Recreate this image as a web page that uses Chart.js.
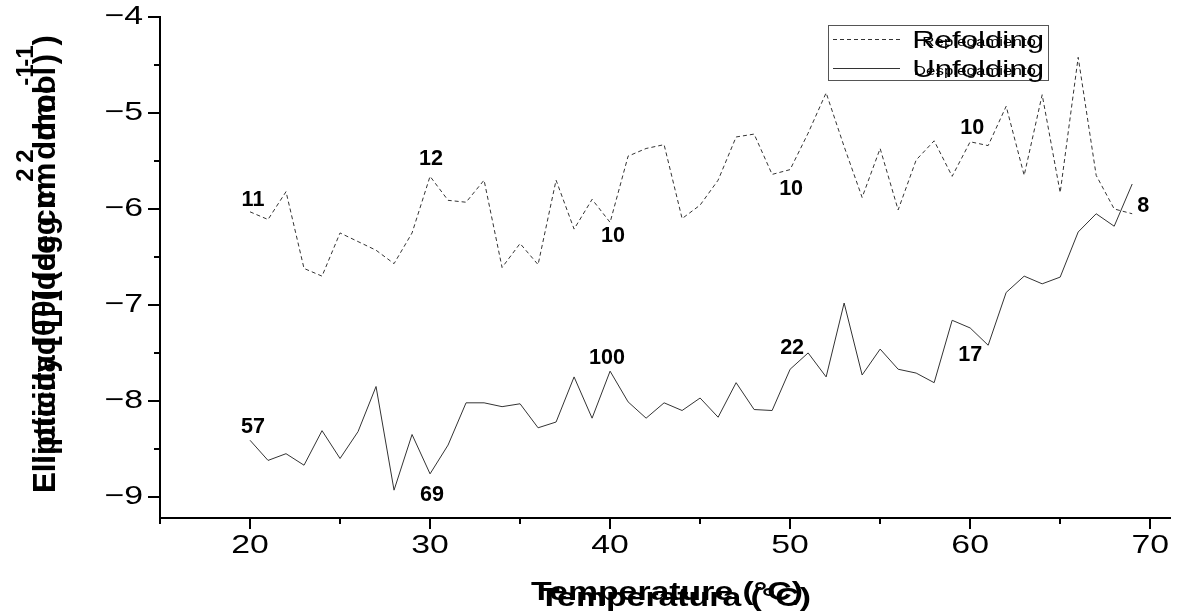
<!DOCTYPE html>
<html>
<head>
<meta charset="utf-8">
<script src="https://cdn.jsdelivr.net/npm/chart.js@4.4.1/dist/chart.umd.min.js"></script>
<style>
html,body{margin:0;padding:0;background:#fff;}
#wrap{width:1182px;height:616px;position:relative;}
canvas{display:block;}
</style>
</head>
<body>
<div id="wrap"><canvas id="c" width="1182" height="616" style="width:1182px;height:616px"></canvas></div>
<script>
// ---------- data ----------
const temperatures = [20,21,22,23,24,25,26,27,28,29,30,31,32,33,34,35,36,37,38,39,40,41,42,43,44,45,46,47,48,49,50,51,52,53,54,55,56,57,58,59,60,61,62,63,64,65,66,67,68,69];
const refolding = [-6.03,-6.11,-5.82,-6.62,-6.70,-6.25,-6.34,-6.43,-6.57,-6.25,
                   -5.66,-5.91,-5.93,-5.70,-6.61,-6.36,-6.58,-5.70,-6.21,-5.90,
                   -6.14,-5.45,-5.37,-5.33,-6.10,-5.96,-5.70,-5.25,-5.22,-5.64,
                   -5.59,-5.21,-4.79,-5.35,-5.88,-5.37,-6.01,-5.49,-5.29,-5.66,
                   -5.30,-5.34,-4.93,-5.65,-4.81,-5.83,-4.42,-5.65,-6.00,-6.05];
const unfolding = [-8.41,-8.62,-8.55,-8.67,-8.31,-8.60,-8.32,-7.85,-8.93,-8.35,
                   -8.76,-8.46,-8.02,-8.02,-8.06,-8.03,-8.28,-8.22,-7.75,-8.18,
                   -7.69,-8.01,-8.18,-8.02,-8.10,-7.97,-8.17,-7.81,-8.09,-8.10,
                   -7.67,-7.50,-7.75,-6.98,-7.73,-7.46,-7.67,-7.71,-7.81,-7.16,
                   -7.24,-7.42,-6.87,-6.70,-6.78,-6.71,-6.24,-6.05,-6.18,-5.74];
const xTicks = [20,30,40,50,60,70];
const xMinorTicks = [15,25,35,45,55,65];
const yTicks = [-4,-5,-6,-7,-8,-9];
const yMinorTicks = [-4.5,-5.5,-6.5,-7.5,-8.5];
const refoldNoteTemps = [20,30,40,50,60,69];
const refoldNotes = ['11','12','10','10','10','8'];
const unfoldNoteTemps = [20,30,40,50,60];
const unfoldNotes = ['57','69','100','22','17'];
const seriesNames = ['Refolding','Unfolding'];
const seriesNamesEs = ['Replegamiento','Desplegamiento'];
const xTitles = ['Temperature (\u00B0C)','Temperatura (\u00B0C)'];
const yTitleA = ['Ellipticity [\u03B8] (deg cm','2',' dmol','-1',')'];
const yTitleB = ['Elipticidad [\u03B8] (deg cm','2',' dmol','-1',')'];

// ---------- styles (positions/offsets) ----------
const refoldNoteOffsets = [[3,-12],[1,-17],[3,14],[1,19],[2,-14],[11,-8]];
const unfoldNoteOffsets = [[3,-13],[2,21],[-3,-13],[2,-21],[0,27]];
const FONT = '"Liberation Sans", Arial, Helvetica, sans-serif';
const SX = 1.3;

function sText(ctx, str, x, y, o) {
  ctx.save();
  ctx.translate(x, y);
  ctx.scale(o.sx || 1, 1);
  ctx.font = (o.bold ? 'bold ' : '') + o.size + 'px ' + FONT;
  ctx.fillStyle = o.color || '#000';
  ctx.textAlign = o.align || 'center';
  ctx.textBaseline = o.base || 'middle';
  ctx.fillText(str, 0, 0);
  ctx.restore();
}
// vertical title, anchored at its start (bottom end on screen)
function rotTitle(ctx, parts, x0, yBottom, size, supSize, sx, supOff) {
  ctx.save();
  ctx.translate(x0, yBottom);
  ctx.scale(sx, 1);
  ctx.rotate(-Math.PI / 2);
  ctx.fillStyle = '#000';
  ctx.textAlign = 'left';
  ctx.textBaseline = 'middle';
  let x = 0;
  parts.forEach((p, i) => {
    const sup = (i === 1 || i === 3);
    ctx.font = 'bold ' + (sup ? supSize : size) + 'px ' + FONT;
    ctx.fillText(p, x, sup ? -supOff : 0);
    x += ctx.measureText(p).width;
  });
  ctx.restore();
}

const decor = {
  id: 'decor',
  afterDraw(chart) {
    const ctx = chart.ctx;
    const xs = chart.scales.x, ys = chart.scales.y;
    const a = chart.chartArea;
    ctx.save();
    ctx.strokeStyle = '#000';
    ctx.lineWidth = 2;
    ctx.beginPath();
    xTicks.forEach(v => { const p = Math.round(xs.getPixelForValue(v)); ctx.moveTo(p, a.bottom); ctx.lineTo(p, a.bottom + 11); });
    xMinorTicks.forEach(v => { const p = Math.round(xs.getPixelForValue(v)); ctx.moveTo(p, a.bottom); ctx.lineTo(p, a.bottom + 6); });
    yTicks.forEach(v => { const p = Math.round(ys.getPixelForValue(v)); ctx.moveTo(a.left, p); ctx.lineTo(a.left - 12, p); });
    yMinorTicks.forEach(v => { const p = Math.round(ys.getPixelForValue(v)); ctx.moveTo(a.left, p); ctx.lineTo(a.left - 6, p); });
    ctx.stroke();
    ctx.restore();

    // tick labels
    xTicks.forEach(v => sText(ctx, String(v), xs.getPixelForValue(v), a.bottom + 28, {size: 26, sx: SX}));
    yTicks.forEach(v => sText(ctx, String(v).replace('-', '\u2212'), a.left - 17, ys.getPixelForValue(v), {size: 26, sx: SX, align: 'right'}));

    // point notes
    refoldNoteTemps.forEach((t, i) => {
      const k = temperatures.indexOf(t);
      sText(ctx, refoldNotes[i], xs.getPixelForValue(t) + refoldNoteOffsets[i][0], ys.getPixelForValue(refolding[k]) + refoldNoteOffsets[i][1], {size: 22, bold: true, sx: 0.98});
    });
    unfoldNoteTemps.forEach((t, i) => {
      const k = temperatures.indexOf(t);
      sText(ctx, unfoldNotes[i], xs.getPixelForValue(t) + unfoldNoteOffsets[i][0], ys.getPixelForValue(unfolding[k]) + unfoldNoteOffsets[i][1], {size: 22, bold: true, sx: 0.98});
    });

    // axis titles (two overlapping layers as in the reference)
    const xc = (a.left + a.right) / 2;
    sText(ctx, xTitles[0], xc + 2, 593, {size: 26, bold: true, sx: SX});
    sText(ctx, xTitles[1], xc + 10, 599, {size: 26, bold: true, sx: SX});
    rotTitle(ctx, yTitleA, 46, 493, 31, 24, 1.0, 20);
    rotTitle(ctx, yTitleB, 46, 493, 31, 24, 1.0, 20);

    // legend
    const ds = chart.data.datasets;
    ctx.save();
    ctx.strokeStyle = '#555';
    ctx.lineWidth = 1;
    ctx.strokeRect(828.5, 25.5, 220, 55);
    const rows = [39, 68];
    rows.forEach((ry, i) => {
      ctx.beginPath();
      ctx.strokeStyle = ds[i].borderColor;
      ctx.lineWidth = ds[i].borderWidth;
      ctx.setLineDash(ds[i].borderDash || []);
      ctx.moveTo(833, ry + 0.5);
      ctx.lineTo(900, ry + 0.5);
      ctx.stroke();
    });
    ctx.restore();
    rows.forEach((ry, i) => {
      sText(ctx, seriesNames[i], 1044, ry + 2, {size: 24, sx: SX, align: 'right'});
      sText(ctx, seriesNamesEs[i], 1036, ry + 3, {size: 13, sx: SX, align: 'right'});
    });
  }
};

const chart = new Chart(document.getElementById('c'), {
  type: 'line',
  data: {
    datasets: [
      {
        label: seriesNames[0],
        data: temperatures.map((t, i) => ({x: t, y: refolding[i]})),
        borderColor: '#333',
        borderWidth: 1,
        borderDash: [4, 3],
        pointRadius: 0,
        tension: 0,
        fill: false
      },
      {
        label: seriesNames[1],
        data: temperatures.map((t, i) => ({x: t, y: unfolding[i]})),
        borderColor: '#333',
        borderWidth: 1,
        pointRadius: 0,
        tension: 0,
        fill: false
      }
    ]
  },
  options: {
    responsive: false,
    animation: false,
    devicePixelRatio: 1,
    layout: {padding: {left: 0, top: 17, right: 12, bottom: 0}},
    plugins: {legend: {display: false}, tooltip: {enabled: false}, title: {display: false}},
    scales: {
      x: {
        type: 'linear', min: 15, max: 71.1,
        grid: {display: false},
        border: {display: true, color: '#000', width: 2},
        ticks: {display: false},
        afterFit(s) { s.height = 98; }
      },
      y: {
        type: 'linear', min: -9.22, max: -4,
        grid: {display: false},
        border: {display: true, color: '#000', width: 2},
        ticks: {display: false},
        afterFit(s) { s.width = 160; }
      }
    }
  },
  plugins: [decor]
});
</script>
</body>
</html>
